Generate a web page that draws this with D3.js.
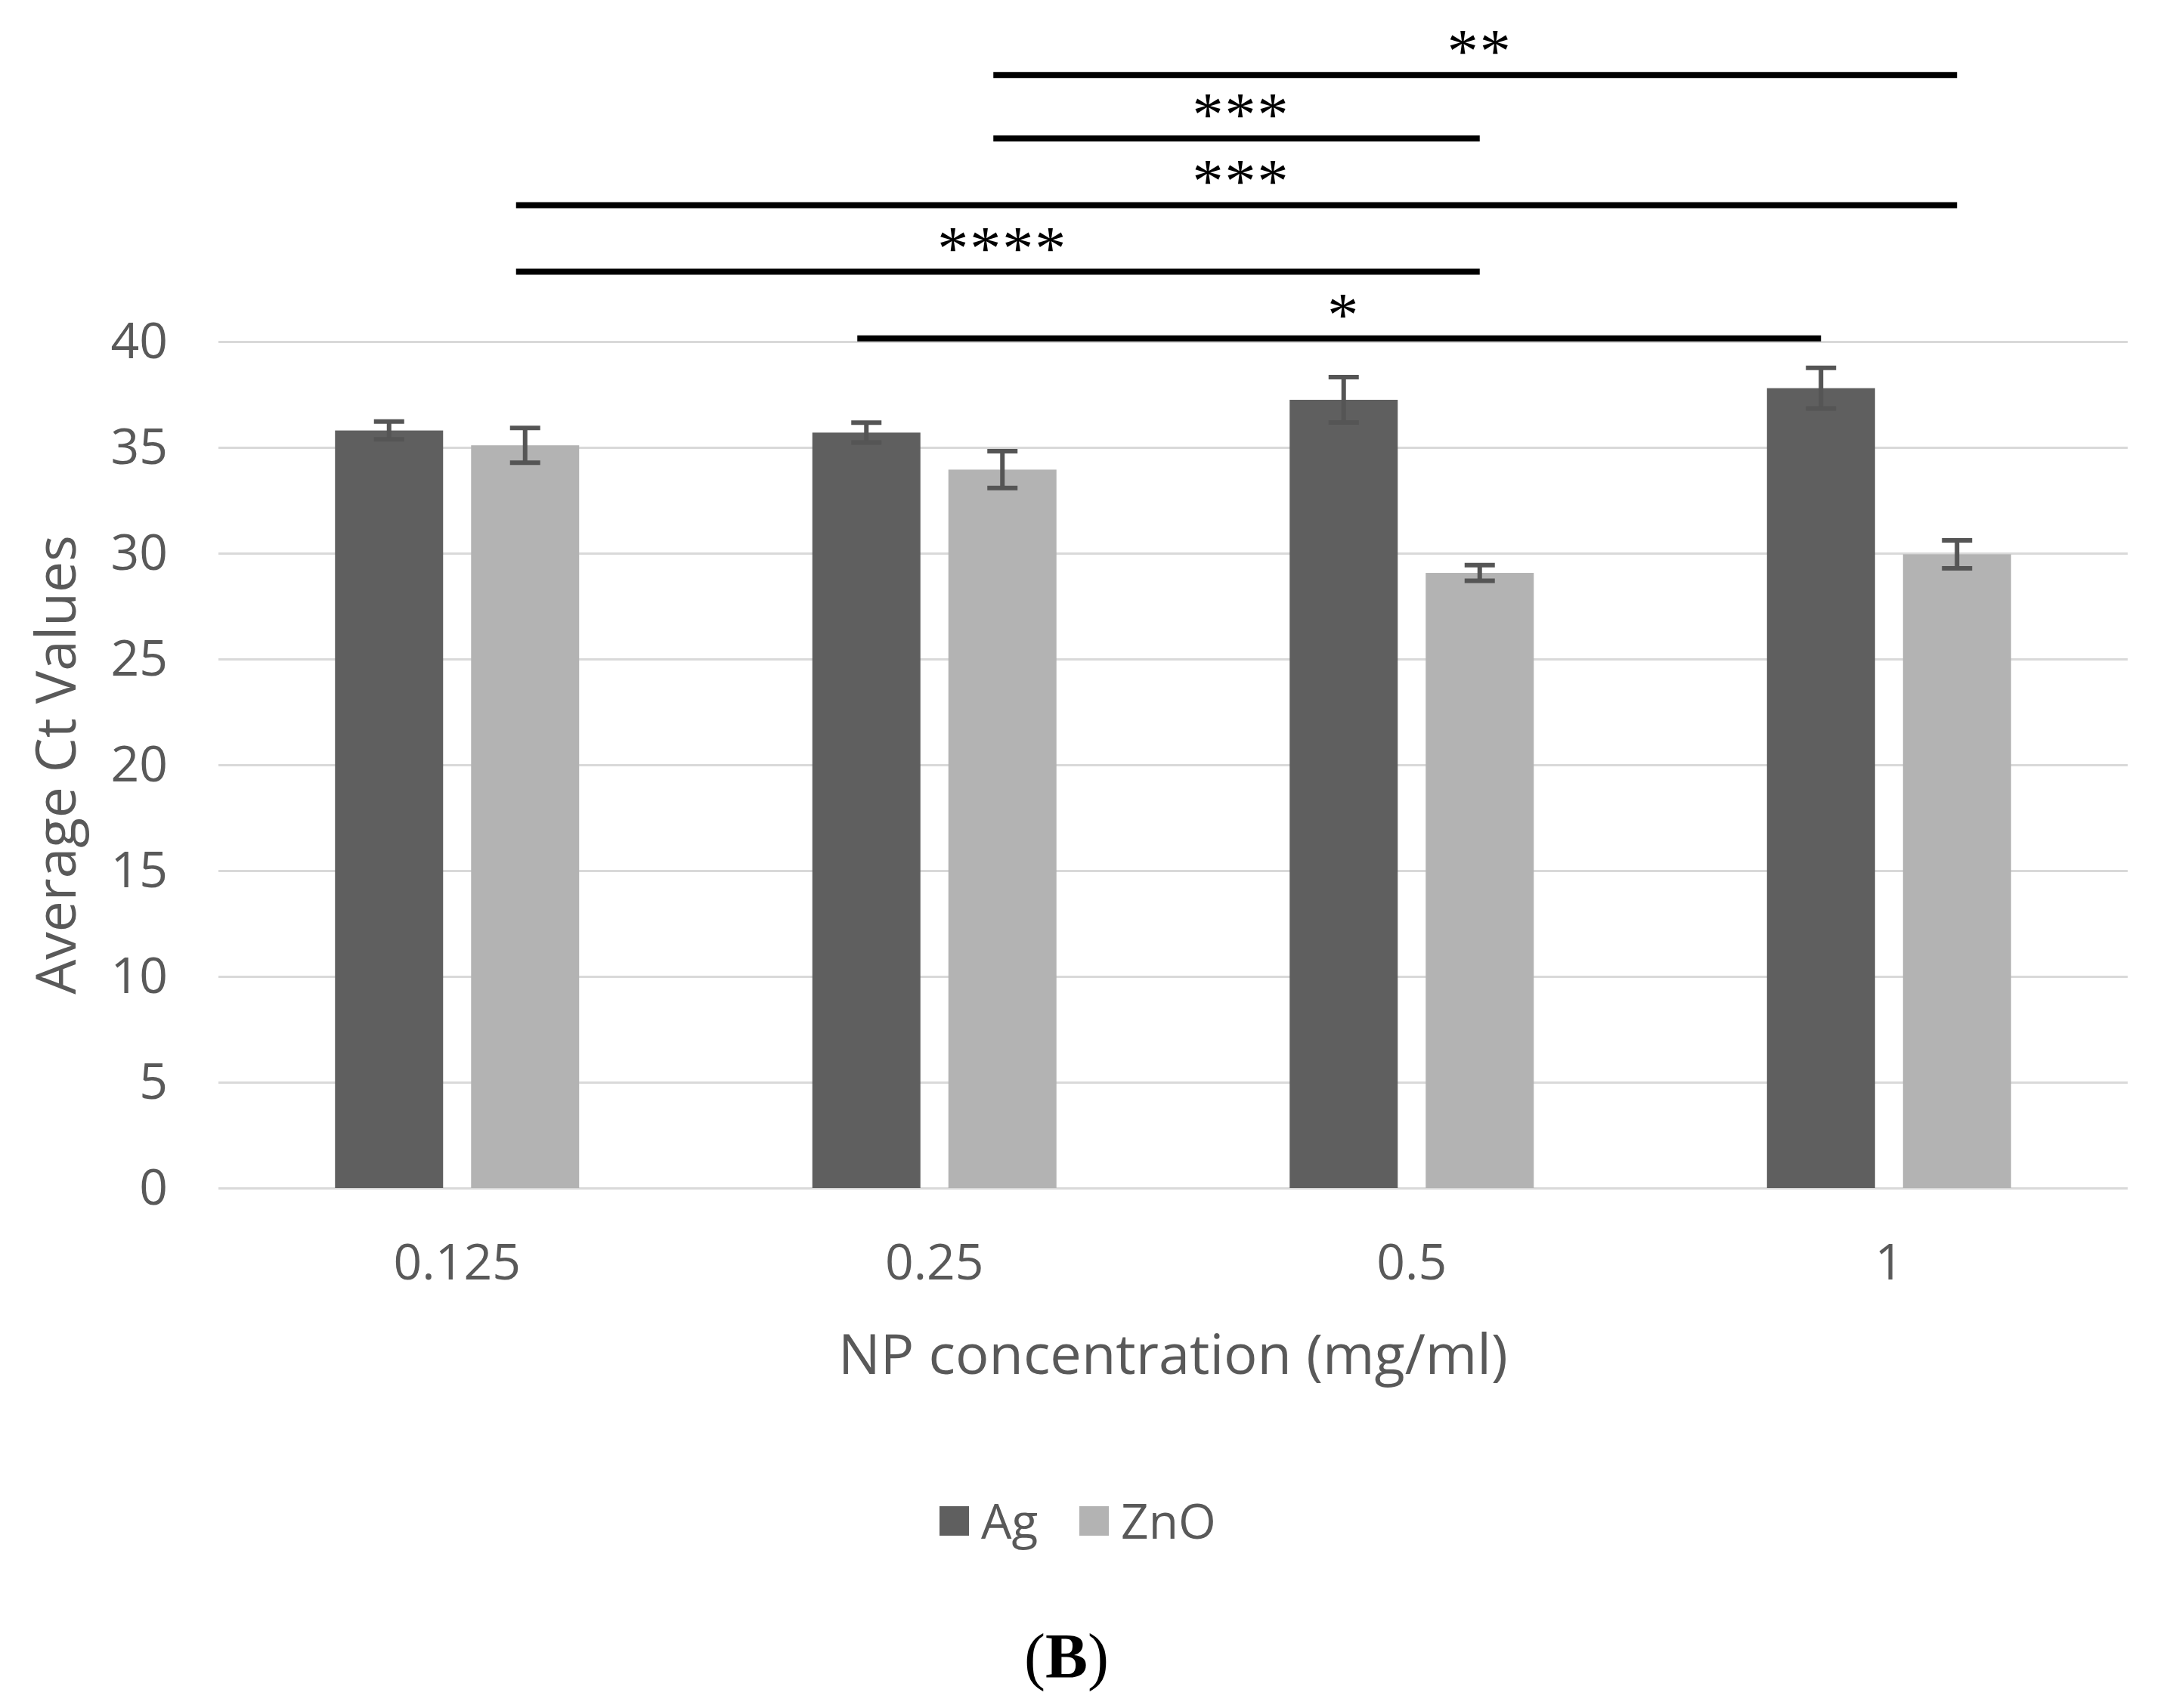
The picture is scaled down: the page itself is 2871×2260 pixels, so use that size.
<!DOCTYPE html>
<html>
<head>
<meta charset="utf-8">
<script src="https://cdn.jsdelivr.net/npm/d3@7"></script>
<style>
    body { margin: 0; background: #fff; }
    text { font-family: "Open Sans", sans-serif; fill: #595959; }
</style>
</head>
<body>
<svg width="2871" height="2260"></svg>
<script>
// concentrations on the x axis
var categories = ['0.125', '0.25', '0.5', '1'];
var seriesNames = ['Ag', 'ZnO'];

// average Ct values and error bar half-widths
var agMeans = [35.8, 35.7, 37.25, 37.8];
var agErrors = [0.42, 0.47, 1.07, 0.96];
var znoMeans = [35.1, 33.95, 29.07, 29.95];
var znoErrors = [0.82, 0.87, 0.37, 0.66];

var yTicks = [0, 5, 10, 15, 20, 25, 30, 35, 40];

// significance brackets, top to bottom
var sigLabels = ['**', '***', '***', '****', '*'];
var sigFrom = [['0.25', 'ZnO'], ['0.25', 'ZnO'], ['0.125', 'ZnO'], ['0.125', 'ZnO'], ['0.25', 'Ag']];
var sigTo = [['1', 'ZnO'], ['0.5', 'ZnO'], ['1', 'ZnO'], ['0.5', 'ZnO'], ['1', 'Ag']];
var sigLevels = [52.6, 49.6, 46.45, 43.3, 40.15];

var colors = {Ag: '#5f5f5f', ZnO: '#b3b3b3'};

var svg = d3.select('svg');

var padding = {t: 452, r: 56, b: 688, l: 289};
var chartWidth = +svg.attr('width') - padding.l - padding.r;
var chartHeight = +svg.attr('height') - padding.t - padding.b;

var chartG = svg.append('g')
    .attr('transform', 'translate(' + [padding.l, padding.t] + ')');

var x0 = d3.scaleBand()
    .domain(categories)
    .range([0, chartWidth]);

var x1 = d3.scaleBand()
    .domain(seriesNames)
    .range([0, x0.bandwidth()])
    .paddingInner(0.2056)
    .paddingOuter(0.857);

var y = d3.scaleLinear()
    .domain([0, 40])
    .range([chartHeight, 0]);

// build rows from the arrays
var rows = [];
categories.forEach(function(c, i) {
    rows.push({cat: c, series: 'Ag', mean: agMeans[i], err: agErrors[i]});
    rows.push({cat: c, series: 'ZnO', mean: znoMeans[i], err: znoErrors[i]});
});

function centerX(cat, series) {
    return x0(cat) + x1(series) + x1.bandwidth() / 2;
}

// gridlines
var grid = chartG.append('g')
    .call(d3.axisLeft(y).tickValues(yTicks).tickSize(-chartWidth).tickFormat(''));
grid.select('.domain').remove();
grid.selectAll('.tick line')
    .attr('stroke', '#d9d9d9')
    .attr('stroke-width', 3);

// y axis labels
var yAxis = chartG.append('g')
    .call(d3.axisLeft(y).tickValues(yTicks).tickSize(0).tickPadding(67));
yAxis.select('.domain').remove();
yAxis.selectAll('text')
    .style('font-size', '66px')
    .style('font-family', '"Open Sans", sans-serif')
    .attr('fill', '#595959');

// x axis labels
var xAxis = chartG.append('g')
    .attr('transform', 'translate(0,' + chartHeight + ')')
    .call(d3.axisBottom(x0).tickSize(0).tickPadding(74));
xAxis.select('.domain').remove();
xAxis.selectAll('text')
    .style('font-size', '66px')
    .style('font-family', '"Open Sans", sans-serif')
    .attr('fill', '#595959');

// bars
chartG.selectAll('.bar')
    .data(rows)
    .enter()
    .append('rect')
    .attr('class', 'bar')
    .attr('x', function(d) { return x0(d.cat) + x1(d.series); })
    .attr('width', x1.bandwidth())
    .attr('y', function(d) { return y(d.mean); })
    .attr('height', function(d) { return chartHeight - y(d.mean); })
    .attr('fill', function(d) { return colors[d.series]; });

// error bars
var errG = chartG.selectAll('.err')
    .data(rows)
    .enter()
    .append('g')
    .attr('class', 'err')
    .attr('stroke', '#555555')
    .attr('stroke-width', 6);

errG.append('line')
    .attr('x1', function(d) { return centerX(d.cat, d.series); })
    .attr('x2', function(d) { return centerX(d.cat, d.series); })
    .attr('y1', function(d) { return y(d.mean + d.err); })
    .attr('y2', function(d) { return y(d.mean - d.err); });

[1, -1].forEach(function(sign) {
    errG.append('line')
        .attr('x1', function(d) { return centerX(d.cat, d.series) - 20; })
        .attr('x2', function(d) { return centerX(d.cat, d.series) + 20; })
        .attr('y1', function(d) { return y(d.mean + sign * d.err); })
        .attr('y2', function(d) { return y(d.mean + sign * d.err); });
});

// significance brackets
var sig = sigLabels.map(function(l, i) {
    return {
        label: l,
        xa: centerX(sigFrom[i][0], sigFrom[i][1]),
        xb: centerX(sigTo[i][0], sigTo[i][1]),
        level: sigLevels[i]
    };
});

chartG.selectAll('.sig-line')
    .data(sig)
    .enter()
    .append('line')
    .attr('class', 'sig-line')
    .attr('x1', function(d) { return d.xa - 12; })
    .attr('x2', function(d) { return d.xb; })
    .attr('y1', function(d) { return y(d.level); })
    .attr('y2', function(d) { return y(d.level); })
    .attr('stroke', '#000')
    .attr('stroke-width', 8);

chartG.selectAll('.sig-label')
    .data(sig)
    .enter()
    .append('text')
    .attr('class', 'sig-label')
    .attr('x', function(d) { return (d.xa + d.xb) / 2; })
    .attr('y', function(d) { return y(d.level) - 4; })
    .attr('text-anchor', 'middle')
    .style('font-family', '"Liberation Serif", serif')
    .style('font-size', '82px')
    .style('letter-spacing', '2px')
    .style('fill', '#000')
    .text(function(d) { return d.label; });

// axis titles
svg.append('text')
    .attr('transform', 'translate(100,' + (padding.t + chartHeight / 2) + ') rotate(-90)')
    .attr('text-anchor', 'middle')
    .style('font-size', '73px')
    .text('Average Ct Values');

svg.append('text')
    .attr('x', padding.l + chartWidth / 2)
    .attr('y', 1818)
    .attr('text-anchor', 'middle')
    .style('font-size', '74px')
    .text('NP concentration (mg/ml)');

// legend
var legend = svg.append('g')
    .attr('transform', 'translate(1243, 1993)');

var legendOffsets = [0, 185];
var legendItems = legend.selectAll('.legend-item')
    .data(seriesNames)
    .enter()
    .append('g')
    .attr('class', 'legend-item')
    .attr('transform', function(d, i) { return 'translate(' + legendOffsets[i] + ',0)'; });

legendItems.append('rect')
    .attr('width', 39)
    .attr('height', 39)
    .attr('fill', function(d) { return colors[d]; });

legendItems.append('text')
    .attr('x', 55)
    .attr('y', 43)
    .style('font-size', '64px')
    .text(function(d) { return d; });

// panel label
var panel = svg.append('text')
    .attr('x', 1411)
    .attr('y', 2220)
    .attr('text-anchor', 'middle')
    .style('font-family', '"Liberation Serif", serif')
    .style('font-size', '84px')
    .style('fill', '#000');
panel.append('tspan').text('(');
panel.append('tspan').style('font-weight', 'bold').text('B');
panel.append('tspan').text(')');
</script>
</body>
</html>
